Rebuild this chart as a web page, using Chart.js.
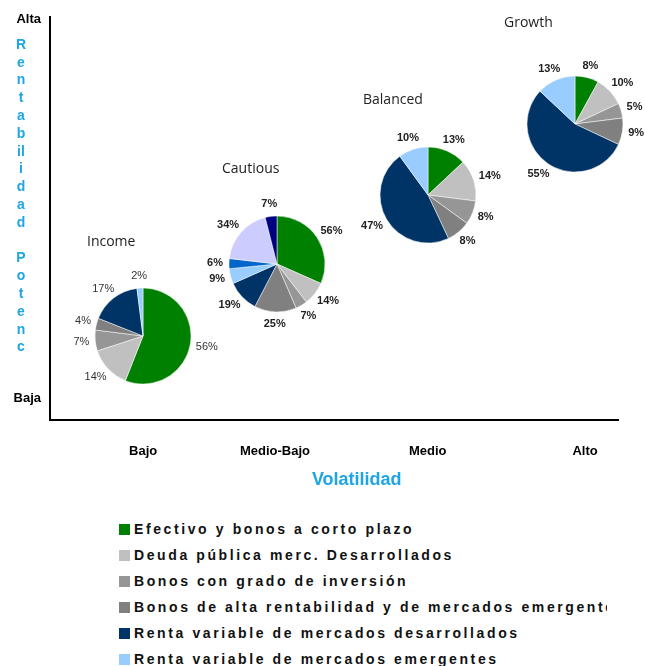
<!DOCTYPE html>
<html>
<head>
<meta charset="utf-8">
<script src="https://cdn.jsdelivr.net/npm/chart.js@4/dist/chart.umd.min.js"></script>
<style>
  body { margin: 0; background: #fff; width: 645px; height: 666px; overflow: hidden; position: relative; font-family: Arial, "Liberation Sans", sans-serif; }
  #main { position: absolute; left: 0; top: 0; }
  .pie { position: absolute; width: 240px; height: 240px; }
  #legend { position: absolute; left: 0; top: 516px; width: 607px; height: 150px; overflow: hidden; }
  .item { position: relative; height: 26px; line-height: 26px; white-space: nowrap; padding-left: 134px; font-weight: bold; font-size: 14px; letter-spacing: 2.6px; color: #111; }
  .item i { position: absolute; left: 119px; top: 8px; width: 11px; height: 11px; }
</style>
</head>
<body>
<canvas id="main" width="645" height="500"></canvas>
<div id="legend"></div>
<script>
// axis categories
const volLabels = ['Bajo', 'Medio-Bajo', 'Medio', 'Alto'];
const volTicks = [1.64, 3.96, 6.65, 9.42];
const retLabels = ['Baja', 'Alta'];
const retTicks = [0.54, 9.93];
const xTitle = 'Volatilidad';
const yTitleLines = ['R', 'e', 'n', 't', 'a', 'b', 'il', 'i', 'd', 'a', 'd', '', 'P', 'o', 't', 'e', 'n', 'c'];

// portfolios: where each pie sits (volatility, return)
const portfolios = ['Income', 'Cautious', 'Balanced', 'Growth'];
const portVol = [1.64, 4.0, 6.65, 9.24];
const portRet = [2.08, 3.86, 5.59, 7.35];

// asset classes
const assetClasses = [
  'Efectivo y bonos a corto plazo',
  'Deuda pública merc. Desarrollados',
  'Bonos con grado de inversión',
  'Bonos de alta rentabilidad y de mercados emergentes',
  'Renta variable de mercados desarrollados',
  'Renta variable de mercados emergentes'
];
const extraClasses = ['Otros (1)', 'Otros (2)', 'Otros (3)'];

// allocations (%), clockwise from 12 o'clock
const incomeMix = [56, 14, 7, 4, 17, 2];
const cautiousMix = [56, 14, 7, 25, 19, 9, 6, 34, 7];
const balancedMix = [13, 14, 8, 8, 47, 10];
const growthMix = [8, 10, 5, 9, 55, 13];

const colors = ['#008000', '#c0c0c0', '#969696', '#808080', '#003366', '#99ccff'];
const extraColors = ['#0066cc', '#ccccff', '#000080'];

const FONT = 'Arial, "Liberation Sans", sans-serif';
const BLUE = '#1ea5e6';

const axisText = {
  id: 'axisText',
  afterDraw(chart) {
    const { ctx, chartArea } = chart;
    ctx.save();
    ctx.fillStyle = BLUE;
    ctx.textAlign = 'center';
    ctx.textBaseline = 'middle';
    ctx.font = 'bold 14px ' + FONT;
    yTitleLines.forEach((s, i) => ctx.fillText(s, 21, 45 + i * 17.8));
    ctx.font = 'bold 18px ' + FONT;
    ctx.fillText(xTitle, chartArea.left + chartArea.width * 0.54, 480);
    ctx.restore();
  }
};

const mainChart = new Chart(document.getElementById('main'), {
  type: 'scatter',
  data: {
    datasets: [{
      data: portfolios.map((p, i) => ({ x: portVol[i], y: portRet[i] })),
      pointRadius: 0
    }]
  },
  options: {
    responsive: false,
    animation: false,
    layout: { padding: { top: 12, right: 27, left: 0, bottom: 0 } },
    plugins: { legend: { display: false }, tooltip: { enabled: false } },
    scales: {
      x: {
        type: 'linear', min: 0, max: 10,
        grid: { display: false, drawTicks: false },
        border: { color: '#000', width: 2 },
        afterBuildTicks: s => { s.ticks = volTicks.map(v => ({ value: v })); },
        afterFit: s => { s.height = 80; },
        ticks: {
          autoSkip: false, maxRotation: 0, padding: 24, color: '#000',
          font: { family: FONT, size: 13, weight: 'bold' },
          callback: (v, i) => volLabels[i]
        }
      },
      y: {
        type: 'linear', min: 0, max: 10,
        grid: { display: false, drawTicks: false },
        border: { color: '#000', width: 2 },
        afterBuildTicks: s => { s.ticks = retTicks.map(v => ({ value: v })); },
        afterFit: s => { s.width = 50; },
        ticks: {
          autoSkip: false, padding: 9, color: '#000',
          font: { family: FONT, size: 13, weight: 'bold' },
          callback: (v, i) => retLabels[i]
        }
      }
    }
  },
  plugins: [axisText]
});

const sliceLabels = {
  id: 'sliceLabels',
  afterDatasetsDraw(chart, args, opts) {
    const { ctx } = chart;
    const meta = chart.getDatasetMeta(0);
    const values = chart.data.datasets[0].data;
    ctx.save();
    ctx.font = opts.font;
    ctx.fillStyle = opts.color;
    ctx.textAlign = 'center';
    ctx.textBaseline = 'middle';
    meta.data.forEach((arc, i) => {
      const { x, y, startAngle, endAngle, outerRadius } =
        arc.getProps(['x', 'y', 'startAngle', 'endAngle', 'outerRadius'], true);
      const mid = (startAngle + endAngle) / 2;
      const dx = Math.cos(mid), dy = Math.sin(mid);
      const t = values[i] + '%';
      const w = ctx.measureText(t).width;
      ctx.fillText(t, x + dx * (outerRadius + 6) + dx * w / 2, y + dy * (outerRadius + 6) + dy * 6);
    });
    const c = meta.data[0];
    ctx.font = '14px "Open Sans", sans-serif';
    ctx.fillStyle = '#222';
    ctx.textAlign = 'left';
    ctx.fillText(opts.title, c.x + opts.dx, c.y + opts.dy);
    ctx.restore();
  }
};

const pieSets = [
  { mix: incomeMix, labels: assetClasses, colors: colors, font: '11px ' + FONT, color: '#333' },
  { mix: cautiousMix, labels: assetClasses.concat(extraClasses), colors: colors.concat(extraColors), font: 'bold 11px ' + FONT, color: '#222' },
  { mix: balancedMix, labels: assetClasses, colors: colors, font: 'bold 11px ' + FONT, color: '#222' },
  { mix: growthMix, labels: assetClasses, colors: colors, font: 'bold 11px ' + FONT, color: '#222' }
];
// where each title sits relative to its pie centre
const titleShift = [[-56, -94], [-55, -95], [-65, -95], [-71, -101]];

const points = mainChart.getDatasetMeta(0).data;

pieSets.forEach((p, i) => {
  const box = document.createElement('div');
  box.className = 'pie';
  box.style.left = (points[i].x - 120) + 'px';
  box.style.top = (points[i].y - 120) + 'px';
  const cv = document.createElement('canvas');
  cv.width = 240;
  cv.height = 240;
  box.appendChild(cv);
  document.body.appendChild(box);

  new Chart(cv, {
    type: 'pie',
    data: {
      labels: p.labels,
      datasets: [{
        data: p.mix,
        backgroundColor: p.colors,
        borderColor: '#fff',
        borderWidth: 0.5
      }]
    },
    options: {
      responsive: false,
      animation: false,
      radius: 48,
      layout: { padding: 0 },
      plugins: {
        legend: { display: false },
        tooltip: { enabled: false },
        sliceLabels: {
          font: p.font, color: p.color, title: portfolios[i],
          dx: titleShift[i][0], dy: titleShift[i][1]
        }
      }
    },
    plugins: [sliceLabels]
  });
});

// legend
const legend = document.getElementById('legend');
assetClasses.forEach((name, i) => {
  const row = document.createElement('div');
  row.className = 'item';
  row.innerHTML = `<i style="background:${colors[i]}"></i>${name}`;
  legend.appendChild(row);
});
</script>
</body>
</html>
